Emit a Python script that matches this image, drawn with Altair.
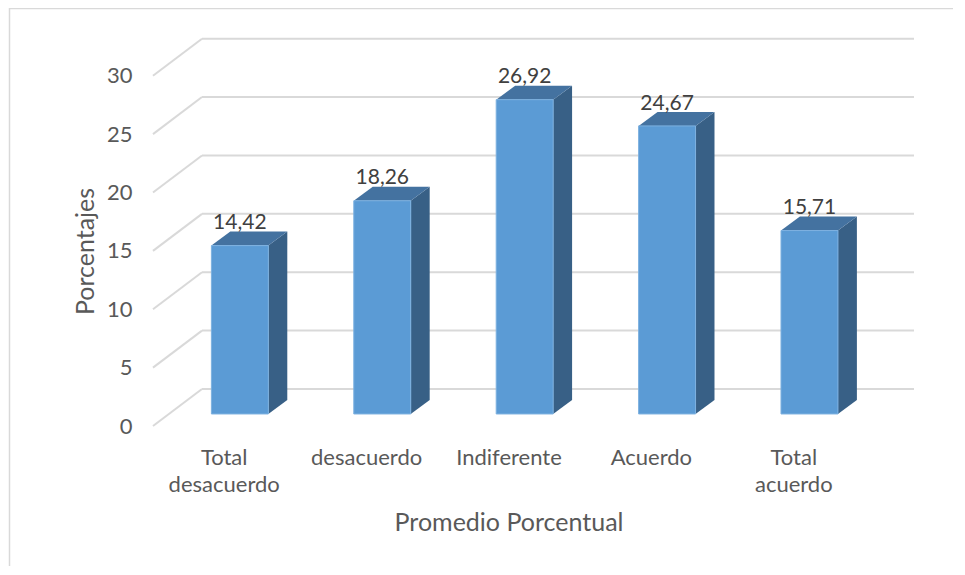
import altair as alt
import pandas as pd

# ---- data ----
categories = ["Total desacuerdo", "desacuerdo", "Indiferente", "Acuerdo", "Total acuerdo"]
values = [14.42, 18.26, 26.92, 24.67, 15.71]
value_labels = ["14,42", "18,26", "26,92", "24,67", "15,71"]
y_ticks = [0, 5, 10, 15, 20, 25, 30]

# ---- 3D styling constants (in scale units) ----
WALL_DU, WALL_DV = 0.344, 3.17        # full depth offset of the back wall
FRONT_DU, FRONT_DV = 0.110, 1.03      # depth of the bar front plane
DEPTH_DU, DEPTH_DV = 0.133, 1.20      # bar depth
BAR_W = 0.40
N = len(categories)

FONT = "Lato"
FS = 21
FS_CAT = 22
FS_TITLE = 25
GRID = "#D9D9D9"

bars = pd.DataFrame({
    "name": categories,
    "value": values,
    "label": value_labels,
    "i": list(range(N)),
})
bars["xl"] = bars["i"] + 0.5 - BAR_W / 2 + FRONT_DU
bars["xr"] = bars["xl"] + BAR_W
bars["xc"] = bars["xl"] + BAR_W / 2
bars["y0"] = FRONT_DV
bars["y1"] = bars["value"] + FRONT_DV
bars["ylab"] = bars["y1"] + DEPTH_DV + 0.2

# side faces (vertical parallelograms) and top faces (horizontal parallelograms)
side_rows = []
top_rows = []
for rec in bars.to_dict("records"):
    side_rows.append({"name": rec["name"], "x": rec["xr"], "lo": rec["y0"], "hi": rec["y1"]})
    side_rows.append({"name": rec["name"], "x": rec["xr"] + DEPTH_DU,
                      "lo": rec["y0"] + DEPTH_DV, "hi": rec["y1"] + DEPTH_DV})
    top_rows.append({"name": rec["name"], "y": rec["y1"], "xa": rec["xl"], "xb": rec["xr"]})
    top_rows.append({"name": rec["name"], "y": rec["y1"] + DEPTH_DV,
                     "xa": rec["xl"] + DEPTH_DU, "xb": rec["xr"] + DEPTH_DU})
side = pd.DataFrame(side_rows)
top = pd.DataFrame(top_rows)

# wall gridlines
diag_rows = []
for t in y_ticks:
    diag_rows.append({"t": t, "x": 0.0, "y": t})
    diag_rows.append({"t": t, "x": WALL_DU, "y": t + WALL_DV})
diag = pd.DataFrame(diag_rows)
back = pd.DataFrame({"t": y_ticks})
back["y"] = back["t"] + WALL_DV
back["x"] = WALL_DU
back["x2"] = N + WALL_DU

cats = pd.DataFrame({"name": categories, "u": [i + 0.5 for i in range(N)]})
cats["text"] = cats["name"].str.split(" ")
cats["ypos"] = -3.34

title_df = pd.DataFrame({"text": ["Promedio Porcentual"], "u": [N / 2], "ypos": [-9.0]})

xs = alt.Scale(domain=[0, N + WALL_DU], nice=False, zero=False)
ys = alt.Scale(domain=[0, 34], nice=False, zero=False)

frame_left = alt.Chart(pd.DataFrame({"a": [0]})).mark_rule(color=GRID, strokeWidth=1.5).encode(
    x=alt.value(-143.5), y=alt.value(-21), y2=alt.value(538))
frame_top = alt.Chart(pd.DataFrame({"a": [0]})).mark_rule(color=GRID, strokeWidth=1.5).encode(
    x=alt.value(-143.5), x2=alt.value(800), y=alt.value(-20.5))

diag_layer = alt.Chart(diag).mark_line(color=GRID, strokeWidth=2).encode(
    x=alt.X("x:Q", scale=xs, axis=None),
    y=alt.Y("y:Q", scale=ys, axis=alt.Axis(
        values=y_ticks, grid=False, domain=False, ticks=False, tickSize=0,
        labelPadding=21, labelFont=FONT, labelFontSize=FS_CAT, labelColor="#595959",
        title="Porcentajes", titleFont=FONT, titleFontSize=FS_TITLE, titleFontWeight="normal",
        titleColor="#595959", titleX=-60, titleY=222, titleAngle=270,
        titleAlign="center", titleBaseline="alphabetic")),
    detail="t:N",
)
back_layer = alt.Chart(back).mark_rule(color=GRID, strokeWidth=2).encode(
    x="x:Q", x2="x2:Q", y="y:Q")

side_layer = alt.Chart(side).mark_area(color="#386086", orient="vertical").encode(
    x="x:Q", y="hi:Q", y2="lo:Q", detail="name:N")
top_layer = alt.Chart(top).mark_area(color="#4472A0", orient="horizontal").encode(
    y="y:Q", x="xa:Q", x2="xb:Q", detail="name:N")
front_layer = alt.Chart(bars).mark_rect(color="#5B9BD5", stroke="#7DB1E0", strokeWidth=1).encode(
    x="xl:Q", x2="xr:Q", y="y0:Q", y2="y1:Q")
vlabel_layer = alt.Chart(bars).mark_text(
    font=FONT, fontSize=FS, color="#404040", baseline="alphabetic", align="center").encode(
    x="xc:Q", y="ylab:Q", text="label:N")
cat_layer = alt.Chart(cats).mark_text(
    font=FONT, fontSize=FS_CAT, color="#595959", baseline="alphabetic", align="center",
    lineHeight=27).encode(x="u:Q", y="ypos:Q", text="text")
title_layer = alt.Chart(title_df).mark_text(
    font=FONT, fontSize=FS_TITLE, color="#595959", baseline="alphabetic", align="center").encode(
    x="u:Q", y="ypos:Q", text="text:N")

chart = alt.layer(
    frame_left, frame_top, diag_layer, back_layer, side_layer, top_layer, front_layer,
    vlabel_layer, cat_layer, title_layer,
).properties(
    width=761, height=397,
    autosize=alt.AutoSizeParams(type="none"),
    padding={"left": 145, "top": 21, "right": 40, "bottom": 140},
).configure(font=FONT, view=alt.ViewConfig(strokeWidth=0, stroke="transparent"))

chart.save("out.html", embed_options={"renderer": "svg", "actions": False})
